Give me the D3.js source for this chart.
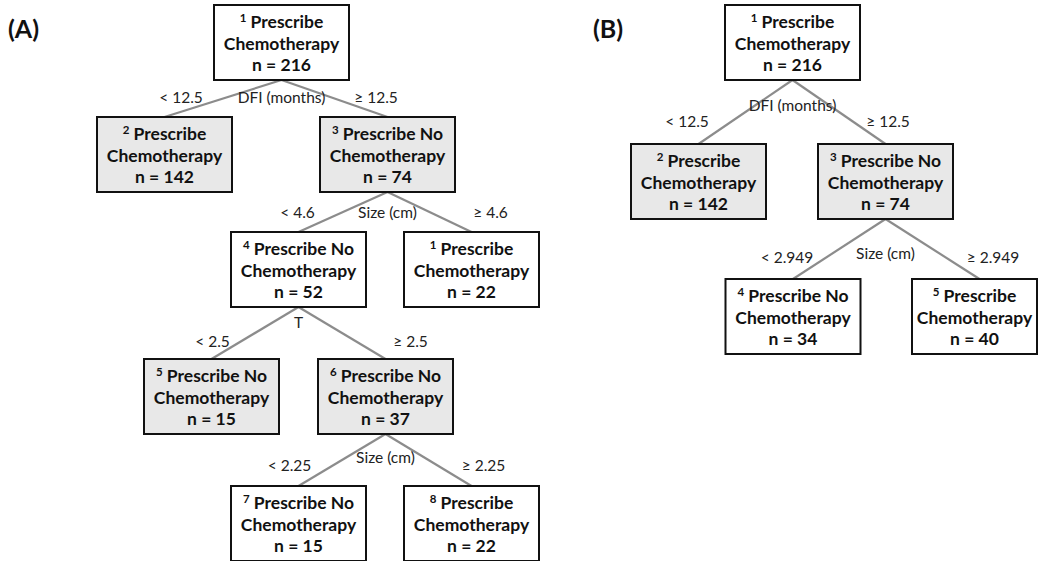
<!DOCTYPE html>
<html><head><meta charset="utf-8">
<script src="https://cdn.jsdelivr.net/npm/d3@7/dist/d3.min.js"></script>
<style>
html,body{margin:0;padding:0;background:#fff;}
svg{display:block;}
</style></head>
<body>
<svg id="chart" width="1039" height="561"></svg>
<script>
// ---------- DATA ----------
// Panel A
const aNodeNum   = [1, 2, 3, 4, 1, 5, 6, 7, 8];
const aDecision  = ["chemo","chemo","nochemo","nochemo","chemo","nochemo","nochemo","nochemo","chemo"];
const aN         = [216, 142, 74, 52, 22, 15, 37, 15, 22];
const aParent    = [-1, 0, 0, 2, 2, 3, 3, 6, 6];
const aShaded    = [false, true, true, false, false, true, true, false, false];
const aEdgeLabel = ["", "< 12.5", "≥ 12.5", "< 4.6", "≥ 4.6", "< 2.5", "≥ 2.5", "< 2.25", "≥ 2.25"];
const aSplitVar  = ["DFI (months)", "", "Size (cm)", "T", "", "", "Size (cm)", "", ""];
// Panel B
const bNodeNum   = [1, 2, 3, 4, 5];
const bDecision  = ["chemo","chemo","nochemo","nochemo","chemo"];
const bN         = [216, 142, 74, 34, 40];
const bParent    = [-1, 0, 0, 2, 2];
const bShaded    = [false, true, true, false, false];
const bEdgeLabel = ["", "< 12.5", "≥ 12.5", "< 2.949", "≥ 2.949"];
const bSplitVar  = ["DFI (months)", "", "Size (cm)", "", ""];

const decisionLines = {chemo: ["Prescribe", "Chemotherapy"], nochemo: ["Prescribe No", "Chemotherapy"]};

// ---------- LAYOUT (positions / styles only) ----------
const W = 1039, H = 561, boxW = 135, boxH = 75;
const layoutA = {
  title: "(A)", titleX: 8, rootX: 281.5,
  levelTops: [5, 117, 232, 359, 486],
  spreadL: [117, 89, 87, 87], spreadR: [106, 84, 87, 86],
  splitDy: [17, 20, 15, 23],
  thrDy:   [17, 20, 34, 31],
  thrDxL:  [-100.5, -90, -86, -96], thrDxR: [94.5, 103, 112, 98]
};
const layoutB = {
  title: "(B)", titleX: 593, rootX: 792.5,
  levelTops: [5, 144, 279],
  spreadL: [94, 92.5], spreadR: [93, 94],
  splitDy: [25, 34],
  thrDy:   [41, 38],
  thrDxL:  [-105.5, -98.5], thrDxR: [95.5, 107.5]
};

const FONT = "Lato, 'Open Sans', sans-serif";
const LABEL_SIZE = 15.5, BOX_SIZE = 17.5;
const svg = d3.select("#chart");

function buildTree(num, dec, n, parent, shaded, edgeLab, split) {
  const rows = num.map((d, i) => ({id: String(i), parentId: parent[i] < 0 ? null : String(parent[i]),
    num: d, dec: dec[i], n: n[i], shaded: shaded[i], edge: edgeLab[i], split: split[i], idx: i}));
  return d3.stratify().id(d => d.id).parentId(d => d.parentId)(rows);
}

function drawPanel(root, L) {
  const y = d3.scaleLinear().domain(L.levelTops.map((_, i) => i)).range(L.levelTops);
  root.eachBefore(node => {
    if (!node.parent) node.x = L.rootX;
    else {
      const k = node.parent.children.indexOf(node);
      const dl = node.parent.depth;
      node.x = node.parent.x + (k === 0 ? -L.spreadL[dl] : L.spreadR[dl]);
    }
    node.top = y(node.depth);
    node.x0 = Math.max(2, node.x - boxW / 2);
    node.x1 = Math.min(W - 2, node.x + boxW / 2);
    node.cx = (node.x0 + node.x1) / 2;
  });
  const g = svg.append("g");

  g.append("text").attr("x", L.titleX).attr("y", 38)
    .attr("font-family", FONT).attr("font-weight", 700).attr("font-size", 25)
    .attr("fill", "#111").text(L.title);

  g.selectAll("line.edge").data(root.links()).join("line")
    .attr("class", "edge")
    .attr("x1", d => d.source.x).attr("y1", d => d.source.top + boxH)
    .attr("x2", d => d.target.x).attr("y2", d => d.target.top)
    .attr("stroke", "#8c8c8c").attr("stroke-width", 2.2);

  const internal = root.descendants().filter(d => d.children);
  g.selectAll("text.split").data(internal).join("text")
    .attr("class", "split")
    .attr("x", d => d.x).attr("y", d => d.top + boxH + L.splitDy[d.depth])
    .attr("dominant-baseline", "central").attr("text-anchor", "middle")
    .attr("font-family", FONT).attr("font-size", LABEL_SIZE).attr("fill", "#222")
    .text(d => d.data.split);

  g.selectAll("text.thr").data(root.descendants().filter(d => d.parent)).join("text")
    .attr("class", "thr")
    .attr("x", d => d.parent.x + (d.parent.children.indexOf(d) === 0 ? L.thrDxL[d.parent.depth] : L.thrDxR[d.parent.depth]))
    .attr("y", d => d.parent.top + boxH + L.thrDy[d.parent.depth])
    .attr("dominant-baseline", "central").attr("text-anchor", "middle")
    .attr("font-family", FONT).attr("font-size", LABEL_SIZE).attr("fill", "#222")
    .text(d => d.data.edge);

  const nodes = g.selectAll("g.node").data(root.descendants()).join("g").attr("class", "node");
  nodes.append("rect")
    .attr("x", d => d.x0).attr("y", d => d.top)
    .attr("width", d => d.x1 - d.x0).attr("height", boxH)
    .attr("fill", d => d.data.shaded ? "#e8e8e8" : "#ffffff")
    .attr("stroke", "#111").attr("stroke-width", 2);

  const t1 = nodes.append("text").attr("text-anchor", "middle")
    .attr("x", d => d.cx).attr("y", d => d.top + 23)
    .attr("font-family", FONT).attr("font-weight", 700).attr("font-size", BOX_SIZE).attr("fill", "#111");
  t1.append("tspan").attr("font-size", 11.5).attr("dy", -6).text(d => d.data.num);
  t1.append("tspan").attr("dy", 6).text(d => " " + decisionLines[d.data.dec][0]);

  nodes.append("text").attr("text-anchor", "middle")
    .attr("x", d => d.cx).attr("y", d => d.top + 45)
    .attr("font-family", FONT).attr("font-weight", 700).attr("font-size", BOX_SIZE).attr("fill", "#111")
    .text(d => decisionLines[d.data.dec][1]);

  nodes.append("text").attr("text-anchor", "middle")
    .attr("x", d => d.cx).attr("y", d => d.top + 66)
    .attr("font-family", FONT).attr("font-weight", 700).attr("font-size", BOX_SIZE).attr("fill", "#111")
    .text(d => "n = " + d.data.n);
}

drawPanel(buildTree(aNodeNum, aDecision, aN, aParent, aShaded, aEdgeLabel, aSplitVar), layoutA);
drawPanel(buildTree(bNodeNum, bDecision, bN, bParent, bShaded, bEdgeLabel, bSplitVar), layoutB);
</script>
</body></html>
